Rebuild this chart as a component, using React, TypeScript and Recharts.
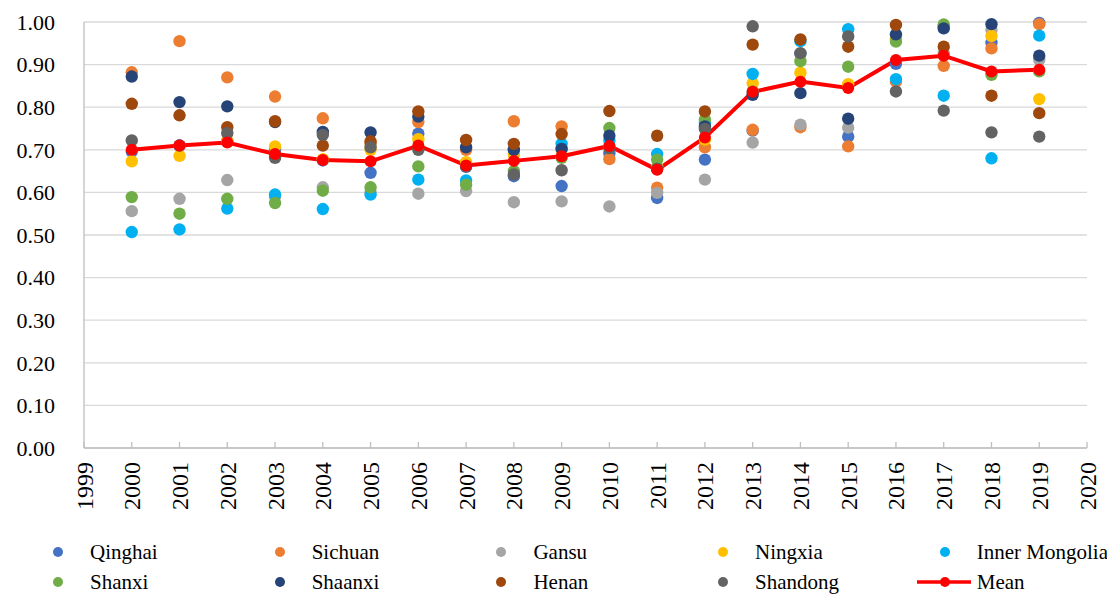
import React from "react";
import { ComposedChart, Line, Scatter, XAxis, YAxis, CartesianGrid, Legend } from "recharts";

const years = [2000, 2001, 2002, 2003, 2004, 2005, 2006, 2007, 2008, 2009, 2010, 2011, 2012, 2013, 2014, 2015, 2016, 2017, 2018, 2019];
const xTicks = [1999, 2000, 2001, 2002, 2003, 2004, 2005, 2006, 2007, 2008, 2009, 2010, 2011, 2012, 2013, 2014, 2015, 2016, 2017, 2018, 2019, 2020];
const yTicks = [0, 0.1, 0.2, 0.3, 0.4, 0.5, 0.6, 0.7, 0.8, 0.9, 1.0];

const qinghai = [0.696, 0.71, 0.72, 0.70, 0.675, 0.646, 0.738, 0.66, 0.638, 0.615, 0.692, 0.587, 0.677, 0.745, 0.925, 0.731, 0.902, 0.99, 0.951, 0.998];
const sichuan = [0.882, 0.955, 0.870, 0.825, 0.774, 0.715, 0.765, 0.70, 0.767, 0.755, 0.678, 0.611, 0.706, 0.747, 0.753, 0.708, 0.86, 0.897, 0.938, 0.995];
const gansu = [0.556, 0.585, 0.629, 0.59, 0.612, 0.60, 0.597, 0.603, 0.577, 0.579, 0.567, 0.599, 0.630, 0.717, 0.759, 0.752, 0.96, 0.927, 0.981, 0.911];
const ningxia = [0.673, 0.686, 0.721, 0.708, 0.678, 0.70, 0.725, 0.671, 0.688, 0.70, 0.71, 0.66, 0.724, 0.856, 0.881, 0.854, 0.96, 0.99, 0.967, 0.819];
const innerMongolia = [0.507, 0.513, 0.562, 0.595, 0.561, 0.595, 0.630, 0.628, 0.70, 0.714, 0.722, 0.690, 0.763, 0.878, 0.955, 0.983, 0.866, 0.827, 0.680, 0.968];
const shanxi = [0.589, 0.550, 0.585, 0.575, 0.604, 0.612, 0.661, 0.618, 0.65, 0.681, 0.751, 0.677, 0.771, 0.837, 0.908, 0.895, 0.954, 0.994, 0.876, 0.884];
const shaanxi = [0.872, 0.812, 0.802, 0.765, 0.742, 0.741, 0.778, 0.706, 0.70, 0.702, 0.733, 0.655, 0.755, 0.829, 0.833, 0.773, 0.971, 0.985, 0.995, 0.921];
const henan = [0.808, 0.781, 0.753, 0.767, 0.710, 0.720, 0.790, 0.723, 0.714, 0.737, 0.791, 0.733, 0.790, 0.947, 0.959, 0.942, 0.993, 0.942, 0.827, 0.786];
const shandong = [0.722, 0.710, 0.739, 0.681, 0.735, 0.706, 0.700, 0.661, 0.642, 0.652, 0.704, 0.655, 0.749, 0.990, 0.927, 0.966, 0.837, 0.792, 0.741, 0.731];
const mean = [0.700, 0.710, 0.717, 0.690, 0.676, 0.673, 0.710, 0.663, 0.674, 0.685, 0.709, 0.653, 0.729, 0.836, 0.860, 0.845, 0.911, 0.921, 0.884, 0.888];

const seriesList = [
  { name: "Qinghai", values: qinghai, color: "#4472C4" },
  { name: "Sichuan", values: sichuan, color: "#ED7D31" },
  { name: "Gansu", values: gansu, color: "#A5A5A5" },
  { name: "Ningxia", values: ningxia, color: "#FFC000" },
  { name: "Inner Mongolia", values: innerMongolia, color: "#00B0F0" },
  { name: "Shanxi", values: shanxi, color: "#70AD47" },
  { name: "Shaanxi", values: shaanxi, color: "#264478" },
  { name: "Henan", values: henan, color: "#9E480E" },
  { name: "Shandong", values: shandong, color: "#636363" },
];

const FONT = "'Liberation Serif', 'Times New Roman', serif";
const toData = (vals: number[]) => years.map((year, i) => ({ year, value: vals[i] }));
const meanData = toData(mean);

const XTick = (props: any) => {
  const { x, y, payload } = props;
  return (
    <g>
      <line x1={x} x2={x} y1={y} y2={y - 6} stroke="#BFBFBF" strokeWidth={1.3} />
      <text transform={`translate(${x + 8.5},${y + 14}) rotate(-90)`} textAnchor="end" fontSize={24} fontFamily={FONT} fill="#000">
        {payload.value}
      </text>
    </g>
  );
};

const LegendContent = () => {
  const items = [...seriesList.map((s) => ({ name: s.name, color: s.color, line: false })), { name: "Mean", color: "#FF0000", line: true }];
  return (
    <div style={{ position: "relative", width: 1100, height: 70, fontFamily: FONT, fontSize: 21, color: "#000" }}>
      {items.map((it, idx) => {
        const row = Math.floor(idx / 5);
        const col = idx % 5;
        const cx = 50 + col * 221.7;
        const cy = 27 + row * 30;
        return (
          <div key={it.name}>
            <svg style={{ position: "absolute", left: cx - 30, top: cy - 8 }} width={60} height={16}>
              {it.line && <line x1={2} x2={56} y1={8} y2={8} stroke={it.color} strokeWidth={3.5} />}
              <circle cx={30} cy={8} r={5} fill={it.color} />
            </svg>
            <span style={{ position: "absolute", left: cx + 32, top: cy - 14, lineHeight: "28px", whiteSpace: "nowrap" }}>{it.name}</span>
          </div>
        );
      })}
    </div>
  );
};

export default function App() {
  return (
    <ComposedChart width={1100} height={587} margin={{ top: 14, right: 21, left: 0, bottom: 0 }}>
      <CartesianGrid horizontal vertical={false} stroke="#D9D9D9" strokeWidth={1.3} />
      <XAxis
        dataKey="year"
        type="number"
        domain={[1999, 2020]}
        ticks={xTicks}
        interval={0}
        allowDuplicatedCategory={false}
        height={77}
        tickLine={false}
        tickSize={0}
        tickMargin={0}
        stroke="#BFBFBF"
        strokeWidth={1.3}
        tick={<XTick />}
      />
      <YAxis
        type="number"
        domain={[0, 1]}
        ticks={yTicks}
        width={76}
        tickLine={false}
        tickSize={0}
        tickMargin={29}
        stroke="#BFBFBF"
        strokeWidth={1.3}
        tickFormatter={(v: number) => v.toFixed(2)}
        tick={{ fontSize: 22, fontFamily: FONT, fill: "#000" }}
      />
      <Legend verticalAlign="bottom" content={<LegendContent />} wrapperStyle={{ left: 0, width: 1100, height: 70 }} />
      <Line
        data={meanData}
        dataKey="value"
        name="Mean"
        stroke="#FF0000"
        strokeWidth={4}
        dot={{ r: 6, fill: "#FF0000", stroke: "none" }}
        isAnimationActive={false}
      />
      {seriesList.map((s) => (
        <Scatter
          key={s.name}
          name={s.name}
          data={toData(s.values)}
          dataKey="value"
          fill={s.color}
          isAnimationActive={false}
          shape={(p: any) => <circle cx={p.cx} cy={p.cy} r={6.2} fill={s.color} />}
        />
      ))}
    </ComposedChart>
  );
}
